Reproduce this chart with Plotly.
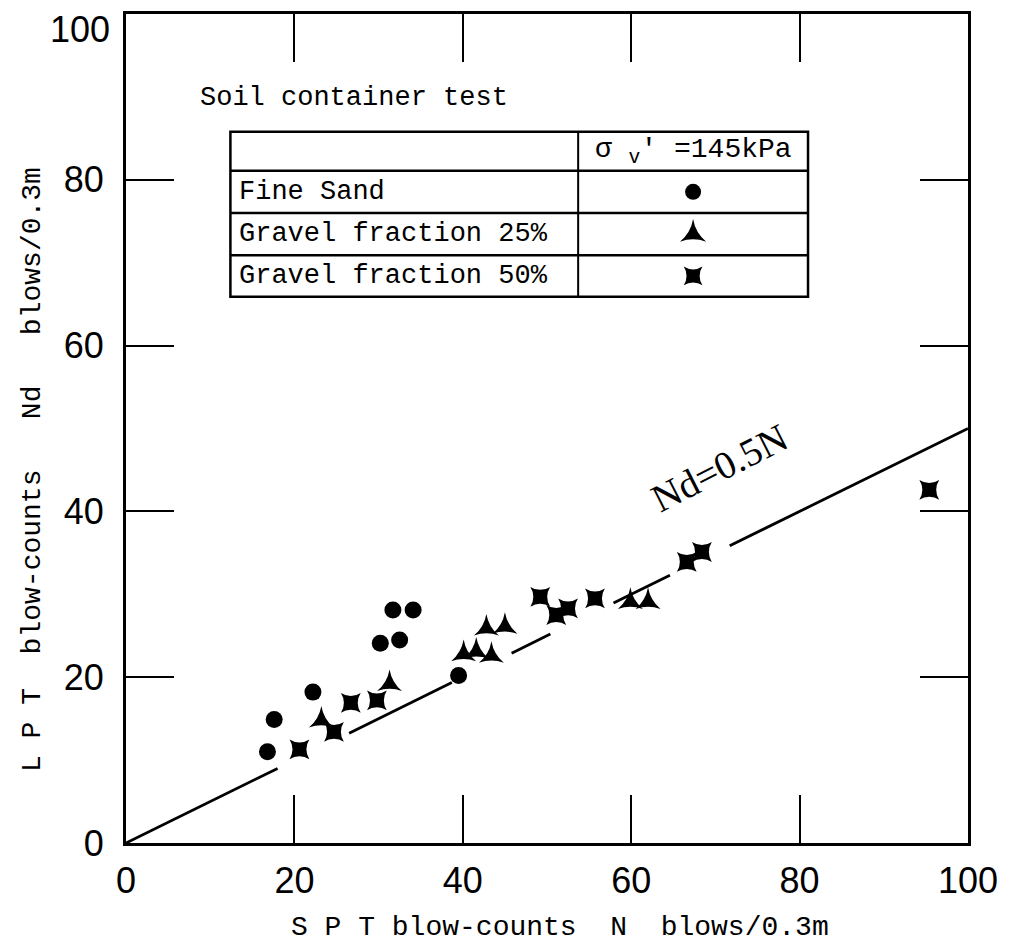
import plotly.graph_objects as go

# --- measured blow-counts (SPT N vs LPT Nd) ---
fine_sand_N = [16.8, 17.6, 22.2, 30.2, 32.5, 31.7, 34.1, 39.5]
fine_sand_Nd = [11.0, 14.9, 18.2, 24.1, 24.5, 28.1, 28.1, 20.2]

gravel25_N = [23.2, 31.3, 40.1, 41.6, 43.4, 42.8, 45.0, 59.9, 62.0]
gravel25_Nd = [14.8, 19.2, 22.8, 23.1, 22.6, 25.9, 26.1, 29.1, 29.1]

gravel50_N = [20.6, 24.7, 26.7, 29.8, 49.2, 51.1, 52.5, 55.7, 66.6, 68.4, 95.4]
gravel50_Nd = [11.3, 13.4, 16.9, 17.2, 29.7, 27.5, 28.3, 29.5, 33.9, 35.1, 42.6]

# reference line Nd = 0.5 N, drawn in pieces that leave room around the markers
ratio = 0.5
line_pieces = [(0, 18), (26.5, 38.7), (45.8, 50.4), (57.9, 64.6), (71.7, 100)]

tick_vals = [0, 20, 40, 60, 80, 100]
x_tick_text = ["0", "20", "40", "60", "80", "100"]
# the top y label sits just below its tick, so it is placed separately
y_tick_text = ["0", "20", "40", "60", "80", ""]
y_top_label = "100"

legend_rows = ["Fine Sand", "Gravel fraction 25%", "Gravel fraction 50%"]
legend_symbols = ["circle", "star-triangle-up", "star-square"]
legend_sizes = [16, 19, 17]

MONO = "Liberation Mono"
SANS = "Liberation Sans"
SERIF = "Liberation Serif"

W, H = 1010, 951
ML, MR, MT, MB = 126, 42, 14, 108

fig = go.Figure()

lx, ly = [], []
for a, b in line_pieces:
    lx += [a, b, None]
    ly += [ratio * a, ratio * b, None]
fig.add_trace(go.Scatter(x=lx, y=ly, mode="lines",
                         line=dict(color="black", width=2.8),
                         hoverinfo="skip", showlegend=False))

fig.add_trace(go.Scatter(x=fine_sand_N, y=fine_sand_Nd, mode="markers",
                         name="Fine Sand",
                         marker=dict(symbol="circle", size=17, color="black"),
                         showlegend=False))
fig.add_trace(go.Scatter(x=gravel25_N, y=gravel25_Nd, mode="markers",
                         name="Gravel fraction 25%",
                         marker=dict(symbol="star-triangle-up", size=18, color="black"),
                         showlegend=False))
fig.add_trace(go.Scatter(x=gravel50_N, y=gravel50_Nd, mode="markers",
                         name="Gravel fraction 50%",
                         marker=dict(symbol="star-square", size=18, color="black"),
                         showlegend=False))

# --- legend table drawn inside the plot ---
tbl_left, tbl_mid, tbl_right = 12.4, 53.7, 81.0
tbl_top, tbl_bottom = 85.8, 65.9
row_lines = [81.1, 76.0, 70.9]
row_centers = [(81.1 + 76.0) / 2, (76.0 + 70.9) / 2, (70.9 + 65.9) / 2]
sym_x = (tbl_mid + tbl_right) / 2

shapes = [dict(type="rect", xref="x", yref="y", x0=tbl_left, x1=tbl_right,
               y0=tbl_bottom, y1=tbl_top, line=dict(color="black", width=2.5),
               fillcolor="rgba(0,0,0,0)", layer="above")]
for yy in row_lines:
    shapes.append(dict(type="line", xref="x", yref="y", x0=tbl_left, x1=tbl_right,
                       y0=yy, y1=yy, line=dict(color="black", width=2.5)))
shapes.append(dict(type="line", xref="x", yref="y", x0=tbl_mid, x1=tbl_mid,
                   y0=tbl_bottom, y1=tbl_top, line=dict(color="black", width=2)))

for label, sym, sz, yc in zip(legend_rows, legend_symbols, legend_sizes, row_centers):
    fig.add_trace(go.Scatter(x=[sym_x], y=[yc], mode="markers",
                             marker=dict(symbol=sym, size=sz, color="black"),
                             hoverinfo="skip", showlegend=False))

annotations = []
for label, yc in zip(legend_rows, row_centers):
    annotations.append(dict(x=tbl_left + 0.8, y=yc, xref="x", yref="y", text=label,
                            showarrow=False, xanchor="left", yanchor="middle",
                            font=dict(family=MONO, size=27, color="black")))
annotations.append(dict(x=sym_x, y=(tbl_top + row_lines[0]) / 2, xref="x", yref="y",
                        text="σ <sub>v</sub>′ =145kPa", showarrow=False,
                        xanchor="center", yanchor="middle",
                        font=dict(family=MONO, size=28, color="black")))
annotations.append(dict(x=8.6, y=89.9, xref="x", yref="y", text="Soil container test",
                        showarrow=False, xanchor="left", yanchor="middle",
                        font=dict(family=MONO, size=27, color="black")))

# line label
annotations.append(dict(x=70.5, y=45.3, xref="x", yref="y", text="Nd=0.5N",
                        showarrow=False, textangle=-27,
                        font=dict(family=SERIF, size=39, color="black")))

# top y tick label, nudged below its tick so it stays inside the page
annotations.append(dict(x=0, y=tick_vals[-1], xref="paper", yref="y",
                        text=y_top_label, showarrow=False,
                        xanchor="right", yanchor="middle", xshift=-14, yshift=-15,
                        font=dict(family=SANS, size=36, color="black")))

# axis titles, placed by pixel position and converted to paper fractions
def px_to_paper(px, py):
    return (px - ML) / (W - ML - MR), 1 - (py - MT) / (H - MT - MB)

tx, ty = px_to_paper(560, 928)
annotations.append(dict(x=tx, y=ty, xref="paper", yref="paper",
                        xanchor="center", yanchor="middle",
                        text="S P T blow-counts  N  blows/0.3m", showarrow=False,
                        font=dict(family=MONO, size=28, color="black")))
tx, ty = px_to_paper(32, 470)
annotations.append(dict(x=tx, y=ty, xref="paper", yref="paper",
                        xanchor="center", yanchor="middle",
                        text="L P T  blow-counts   Nd   blows/0.3m", showarrow=False,
                        textangle=-90,
                        font=dict(family=MONO, size=28, color="black")))

axis_common = dict(range=[0, 100], showgrid=False, zeroline=False,
                   showline=True, linecolor="black", linewidth=3, mirror="ticks",
                   ticks="inside", ticklen=48, tickwidth=2, tickcolor="black",
                   tickvals=tick_vals,
                   ticklabeloverflow="allow", automargin=False,
                   tickfont=dict(family=SANS, size=36, color="black"))

fig.update_layout(
    width=W, height=H,
    margin=dict(l=ML, r=MR, t=MT, b=MB, autoexpand=False),
    paper_bgcolor="white", plot_bgcolor="white",
    xaxis=dict(**axis_common, ticktext=x_tick_text, ticklabelstandoff=4),
    yaxis=dict(**axis_common, ticktext=y_tick_text, ticklabelstandoff=12),
    shapes=shapes, annotations=annotations,
    showlegend=False,
)

fig.write_html("out.html")
